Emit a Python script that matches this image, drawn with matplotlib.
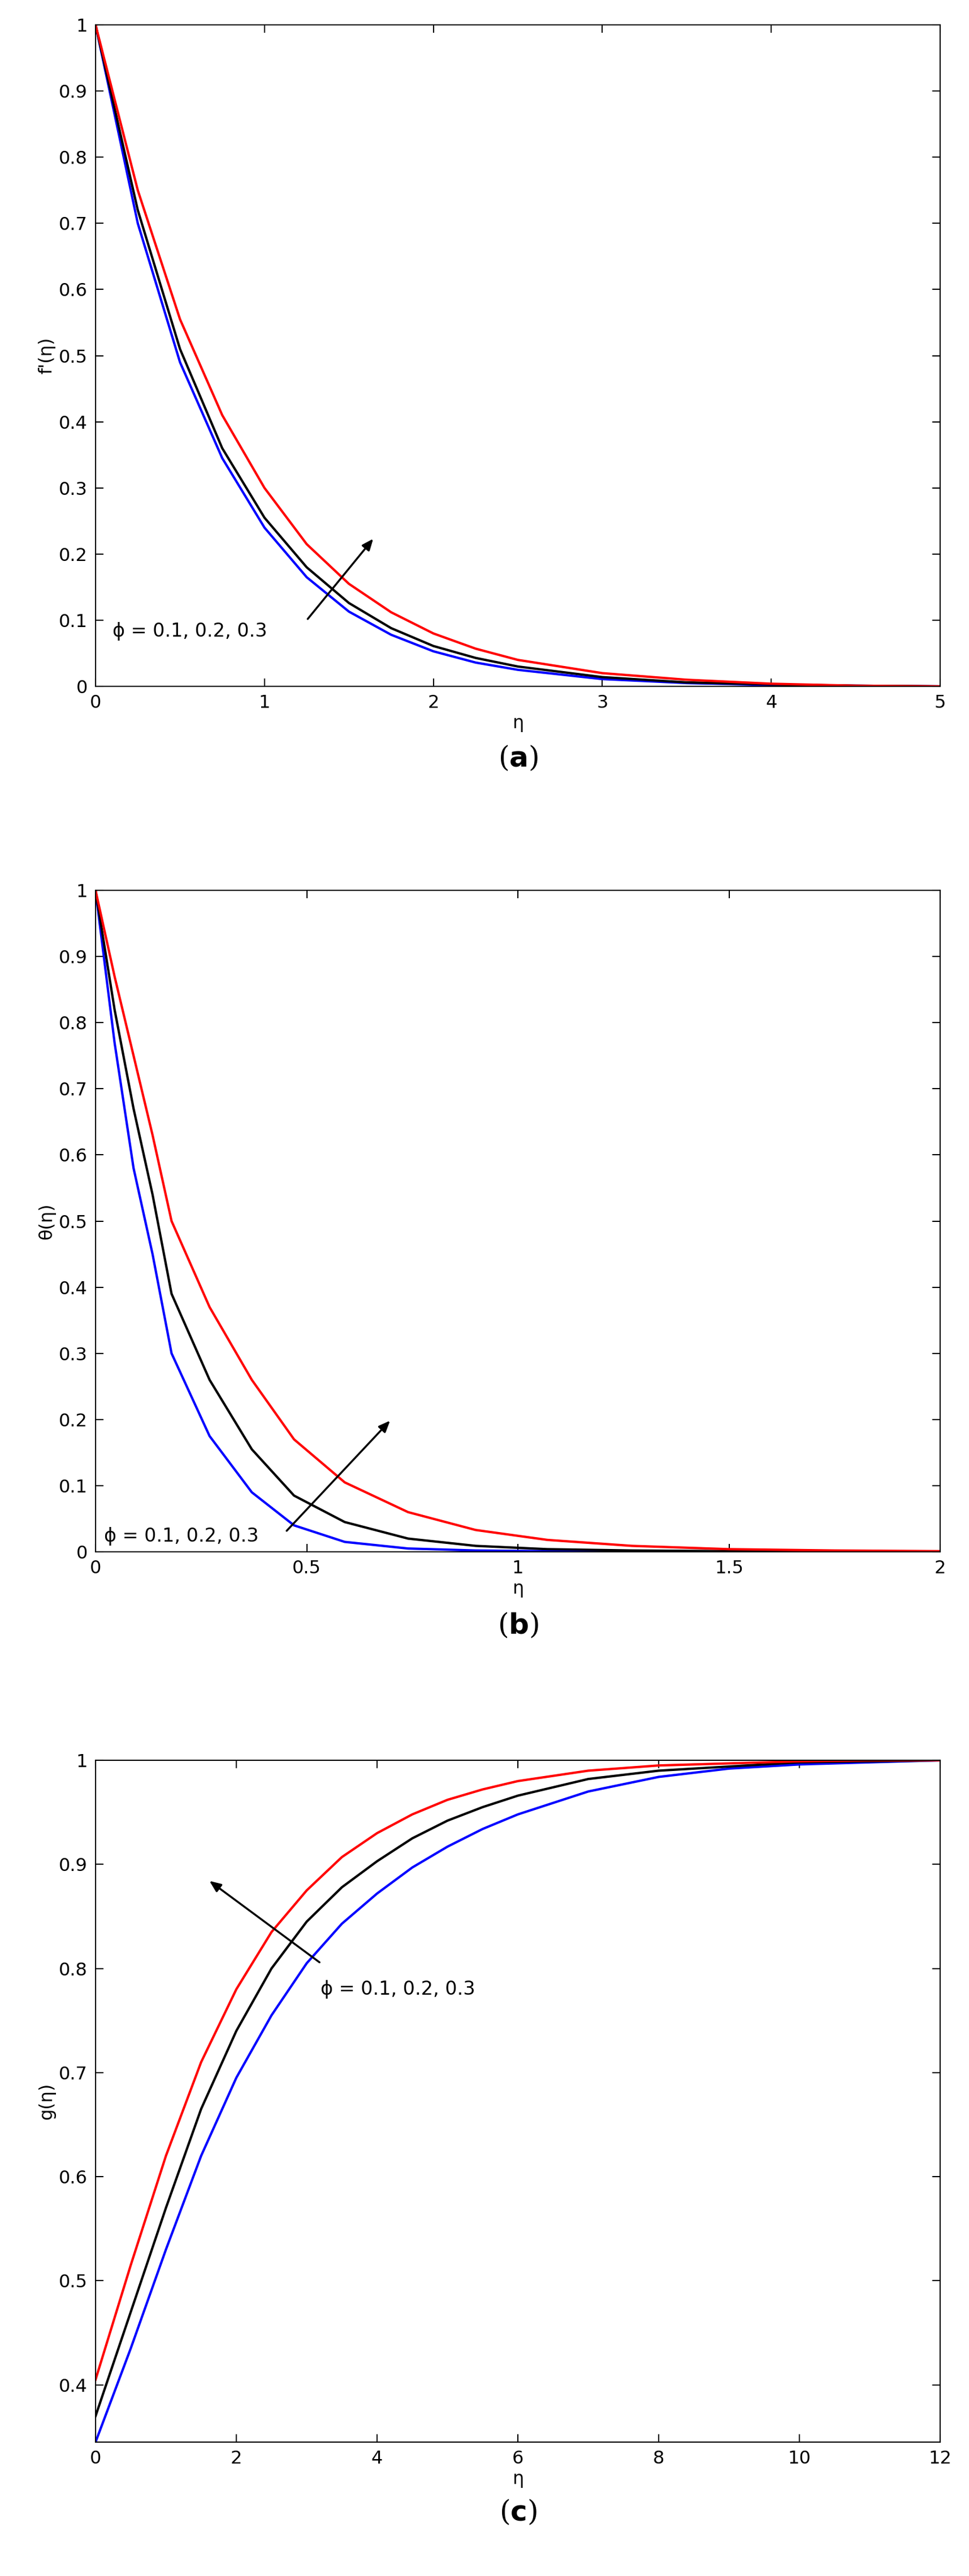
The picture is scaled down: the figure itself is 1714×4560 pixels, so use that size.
import matplotlib
matplotlib.use("Agg")
import matplotlib.pyplot as plt

# Panel (a) f'(eta)
xa = [0, .25, .5, .75, 1, 1.25, 1.5, 1.75, 2, 2.25, 2.5, 3, 3.5, 4, 4.5, 5]
fa_red = [1, .75, .555, .41, .30, .215, .155, .112, .08, .057, .04, .02, .01, .004, .001, 0]
fa_black = [1, .72, .51, .36, .255, .18, .126, .088, .061, .043, .03, .014, .006, .003, .001, 0]
fa_blue = [1, .70, .49, .345, .24, .165, .113, .078, .053, .036, .025, .011, .005, .002, .001, 0]

# Panel (b) theta(eta)
xb = [0, .045, .09, .135, .18, .27, .37, .47, .59, .74, .9, 1.07, 1.27, 1.5, 1.75, 2]
tb_red = [1, .87, .75, .63, .50, .37, .26, .17, .105, .06, .033, .018, .009, .004, .002, .001]
tb_black = [1, .82, .67, .54, .39, .26, .155, .085, .045, .02, .009, .004, .002, .001, 0, 0]
tb_blue = [1, .77, .58, .45, .30, .175, .09, .04, .015, .005, .002, .001, 0, 0, 0, 0]

# Panel (c) g(eta)
xc = [0, .5, 1, 1.5, 2, 2.5, 3, 3.5, 4, 4.5, 5, 5.5, 6, 7, 8, 9, 10, 11, 12]
gc_red = [.405, .515, .62, .71, .78, .835, .875, .907, .93, .948, .962, .972, .98, .99, .995, .997, .999, 1, 1]
gc_black = [.37, .47, .57, .665, .74, .80, .845, .878, .903, .925, .942, .955, .966, .982, .99, .994, .998, .999, 1]
gc_blue = [.345, .435, .53, .62, .695, .755, .805, .843, .872, .897, .917, .934, .948, .97, .984, .992, .996, .998, 1]

label_text = "ϕ = 0.1, 0.2, 0.3"
W, H = 1715, 4560
fig = plt.figure(figsize=(W/100, H/100), dpi=100)

def add(ax_box, x, ys, xlim, ylim, xticks, yticks, ylabel, arrow, textpos, tag, tagy):
    l, b, r, t = ax_box
    ax = fig.add_axes([l/W, 1-b/H, (r-l)/W, (b-t)/H])
    for y, c in zip(ys, ["blue", "black", "red"]):
        ax.plot(x, y, color=c, lw=3)
    ax.set_xlim(*xlim); ax.set_ylim(*ylim)
    ax.set_xticks(xticks); ax.set_yticks(yticks)
    ax.set_xticklabels([("%g" % v) for v in xticks])
    ax.set_yticklabels([("%g" % v) for v in yticks])
    ax.tick_params(direction="in", top=True, right=True, labelsize=23, length=10, width=1.5, pad=10)
    for s in ax.spines.values():
        s.set_linewidth(1.5)
    ax.set_xlabel("η", fontsize=23)
    ax.set_ylabel(ylabel, fontsize=23)
    ax.annotate("", xy=arrow[1], xytext=arrow[0],
                arrowprops=dict(arrowstyle="-|>,head_length=1.2,head_width=0.5", color="black", lw=2.5))
    ax.text(textpos[0], textpos[1], label_text, fontsize=24)
    fig.text(0.5*(l+r)/W, 1-tagy/H, tag, ha="center", va="center", fontsize=36,
             family="DejaVu Serif")
    return ax

add((169, 1215, 1663, 44), xa, [fa_blue, fa_black, fa_red], (0, 5), (0, 1),
    [0, 1, 2, 3, 4, 5], [0, .1, .2, .3, .4, .5, .6, .7, .8, .9, 1], "f'(η)",
    ((1.25, 0.1), (1.65, 0.225)), (0.1, 0.075), r"($\mathbf{a}$)", 1343)
add((169, 2747, 1663, 1576), xb, [tb_blue, tb_black, tb_red], (0, 2), (0, 1),
    [0, .5, 1, 1.5, 2], [0, .1, .2, .3, .4, .5, .6, .7, .8, .9, 1], "θ(η)",
    ((0.45, 0.03), (0.7, 0.2)), (0.02, 0.015), r"($\mathbf{b}$)", 2878)
add((169, 4323, 1663, 3116), xc, [gc_blue, gc_black, gc_red], (0, 12), (0.345, 1),
    [0, 2, 4, 6, 8, 10, 12], [.4, .5, .6, .7, .8, .9, 1], "g(η)",
    ((3.2, 0.805), (1.6, 0.885)), (3.2, 0.775), r"($\mathbf{c}$)", 4448)

fig.savefig("out.png", dpi=100)
